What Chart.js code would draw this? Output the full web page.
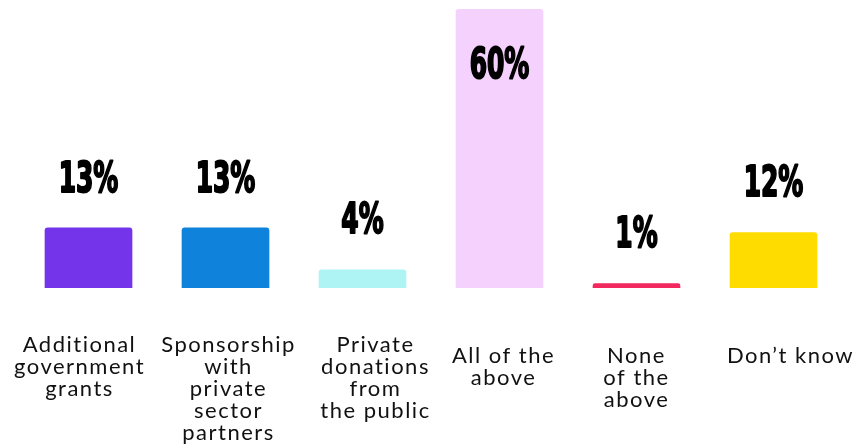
<!DOCTYPE html>
<html>
<head>
<meta charset="utf-8">
<script src="https://cdn.jsdelivr.net/npm/chart.js@4"></script>
<style>
    html, body { margin: 0; padding: 0; background: #fff; }
    #wrap { width: 857px; height: 445px; }
</style>
</head>
<body>
<div id="wrap"><canvas id="chart"></canvas></div>
<script>
const categories = [
    ["Additional", "government", "grants"],
    ["Sponsorship", "with", "private", "sector", "partners"],
    ["Private", "donations", "from", "the public"],
    ["All of the", "above"],
    ["None", "of the", "above"],
    ["Don\u2019t know"]
];
const shares = [13, 13, 4, 60, 1, 12];
const barColors = ["#7434E9", "#0F82DC", "#AEF4F5", "#F5D1FD", "#F2295F", "#FFDC00"];

// small hand nudges for the category text, like in the original layout
const labelNudge = [[-9, 0], [3, 0], [13, 0], [4, 11], [0, 11], [17, 11]];

// big condensed percent labels above each bar (inside the tallest one)
const valueLabels = {
    id: 'valueLabels',
    afterDatasetsDraw(chart) {
        const c = chart.ctx
        const meta = chart.getDatasetMeta(0)
        c.save()
        c.font = "bold 42px 'DejaVu Sans Condensed', 'DejaVu Sans', sans-serif"
        c.fillStyle = "#000"
        c.strokeStyle = "#000"
        c.lineWidth = 2
        c.lineJoin = "round"
        c.textAlign = "center"
        c.textBaseline = "alphabetic"
        meta.data.forEach((bar, i) => {
            let y = bar.y - 36
            if (y < chart.chartArea.top + 40) y = bar.y + 69
            c.save()
            c.translate(bar.x, y)
            c.scale(0.66, 1)
            c.strokeText(shares[i] + "%", 0, 0)
            c.fillText(shares[i] + "%", 0, 0)
            c.restore()
        })
        c.restore()
    }
}

// category text under the bars, one line at a time
const categoryText = {
    id: 'categoryText',
    afterDraw(chart) {
        const c = chart.ctx
        const xs = chart.scales.x
        const base = chart.chartArea.bottom + 64
        c.save()
        c.font = "22px Lato, 'Noto Sans', sans-serif"
        c.letterSpacing = "1.5px"
        c.fillStyle = "#111"
        c.textAlign = "center"
        c.textBaseline = "alphabetic"
        categories.forEach((lines, i) => {
            const x = xs.getPixelForValue(i) + labelNudge[i][0]
            lines.forEach((t, j) => {
                c.fillText(t, x, base + labelNudge[i][1] + j * 22)
            })
        })
        c.restore()
    }
}

const ctx = document.getElementById('chart');

new Chart(ctx, {
    type: 'bar',
    data: {
        labels: categories.map(l => l.join(" ")),
        datasets: [{
            data: shares,
            backgroundColor: barColors,
            borderWidth: 0,
            borderRadius: { topLeft: 3, topRight: 3 },
            borderSkipped: 'bottom',
            categoryPercentage: 1,
            barPercentage: 0.64
        }]
    },
    options: {
        responsive: true,
        maintainAspectRatio: false,
        animation: false,
        layout: { padding: { top: 9, left: 20, right: 15, bottom: 0 } },
        plugins: {
            legend: { display: false },
            tooltip: { enabled: false }
        },
        scales: {
            x: {
                grid: { display: false, drawTicks: false },
                border: { display: false },
                ticks: { display: false },
                afterFit(scale) { scale.height = 157 }
            },
            y: {
                display: false,
                min: 0,
                max: 60
            }
        }
    },
    plugins: [valueLabels, categoryText]
});
</script>
</body>
</html>
